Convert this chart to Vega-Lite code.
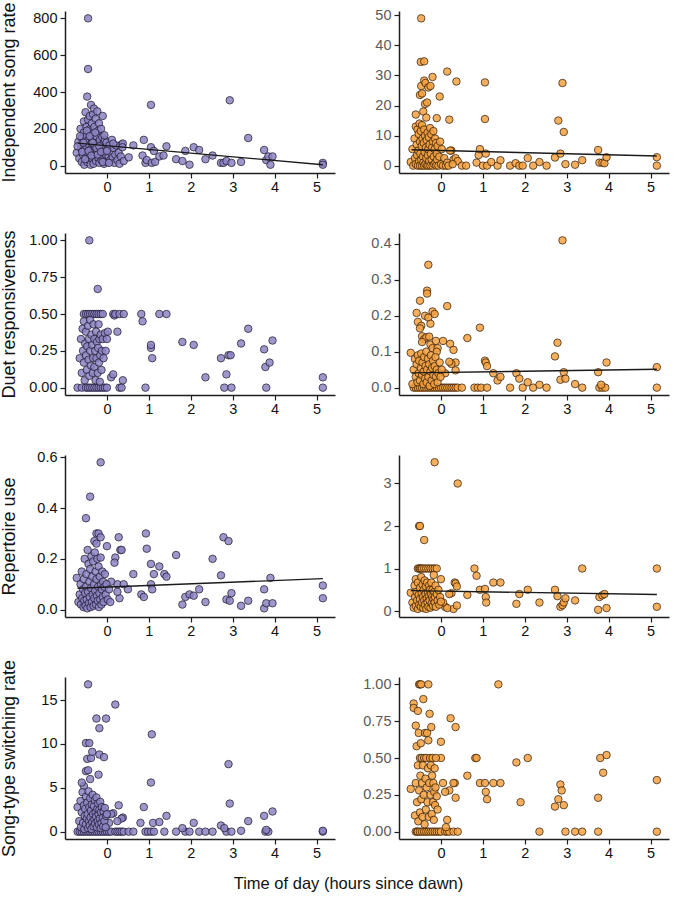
{
"$schema":"https://vega.github.io/schema/vega-lite/v6.json",
"background":"white",
"padding":{"left":0,"top":1,"right":12,"bottom":4},
"title":{"text":"Time of day (hours since dawn)","orient":"bottom","anchor":"middle","fontSize":16.5,"fontWeight":"normal","font":"Liberation Sans","color":"#111111","offset":16,"dx":14},
"columns":2,
"spacing":{"row":60,"column":64},
"bounds":"flush",
"config":{
 "view":{"stroke":null},
 "axis":{"grid":false,"domainColor":"#1e1e1e","domainWidth":1.5,"tickColor":"#1e1e1e","tickWidth":1.2,"tickSize":5,"labelPadding":3,"labelFont":"Liberation Sans","labelFontSize":14.5,"labelColor":"#111111","titleFont":"Liberation Sans","titleFontSize":18,"titleFontWeight":"normal","titleColor":"#111111"},
 "axisY":{"titleX":-47,"titleBaseline":"bottom"},
 "axisX":{"labelPadding":2}
},
"concat":[
 {"width":270,"height":162,
  "encoding":{"x":{"field":"x","type":"quantitative","scale":{"domain":[-1,5.44],"nice":false,"zero":false},"axis":{"values":[0,1,2,3,4,5],"title":null}},
   "y":{"field":"y","type":"quantitative","scale":{"domain":[-40,840],"nice":false,"zero":false},"axis":{"values":[0,200,400,600,800],"title":"Independent song rate"}}},
  "layer":[
  {"data":{"name":"p1"},"mark":{"type":"circle","size":56,"fill":"#8d85c4","stroke":"#2a2540","strokeWidth":1,"opacity":0.85}},
  {"data":{"name":"l1"},"mark":{"type":"line","color":"#1a1a1a","strokeWidth":1.4}}
 ]},
 {"width":270,"height":162,
  "encoding":{"x":{"field":"x","type":"quantitative","scale":{"domain":[-1,5.44],"nice":false,"zero":false},"axis":{"values":[0,1,2,3,4,5],"title":null}},
   "y":{"field":"y","type":"quantitative","scale":{"domain":[-2.45,51.45],"nice":false,"zero":false},"axis":{"values":[0,10,20,30,40,50],"title":null,"labelColor":"#5a5a5a"}}},
  "layer":[
  {"data":{"name":"p2"},"mark":{"type":"circle","size":56,"fill":"#f5a241","stroke":"#4a2c0c","strokeWidth":1,"opacity":0.85}},
  {"data":{"name":"l2"},"mark":{"type":"line","color":"#1a1a1a","strokeWidth":1.4}}
 ]},
 {"width":270,"height":162,
  "encoding":{"x":{"field":"x","type":"quantitative","scale":{"domain":[-1,5.44],"nice":false,"zero":false},"axis":{"values":[0,1,2,3,4,5],"title":null}},
   "y":{"field":"y","type":"quantitative","scale":{"domain":[-0.05,1.05],"nice":false,"zero":false},"axis":{"values":[0,0.25,0.5,0.75,1],"format":".2f","title":"Duet responsiveness"}}},
  "layer":[
  {"data":{"name":"p3"},"mark":{"type":"circle","size":56,"fill":"#8d85c4","stroke":"#2a2540","strokeWidth":1,"opacity":0.85}}
 ]},
 {"width":270,"height":162,
  "encoding":{"x":{"field":"x","type":"quantitative","scale":{"domain":[-1,5.44],"nice":false,"zero":false},"axis":{"values":[0,1,2,3,4,5],"title":null}},
   "y":{"field":"y","type":"quantitative","scale":{"domain":[-0.0205,0.4305],"nice":false,"zero":false},"axis":{"values":[0,0.1,0.2,0.3,0.4],"format":".1f","title":null,"labelColor":"#5a5a5a"}}},
  "layer":[
  {"data":{"name":"p4"},"mark":{"type":"circle","size":56,"fill":"#f5a241","stroke":"#4a2c0c","strokeWidth":1,"opacity":0.85}},
  {"data":{"name":"l4"},"mark":{"type":"line","color":"#1a1a1a","strokeWidth":1.4}}
 ]},
 {"width":270,"height":162,
  "encoding":{"x":{"field":"x","type":"quantitative","scale":{"domain":[-1,5.44],"nice":false,"zero":false},"axis":{"values":[0,1,2,3,4,5],"title":null}},
   "y":{"field":"y","type":"quantitative","scale":{"domain":[-0.029,0.609],"nice":false,"zero":false},"axis":{"values":[0,0.2,0.4,0.6],"format":".1f","title":"Repertoire use"}}},
  "layer":[
  {"data":{"name":"p5"},"mark":{"type":"circle","size":56,"fill":"#8d85c4","stroke":"#2a2540","strokeWidth":1,"opacity":0.85}},
  {"data":{"name":"l5"},"mark":{"type":"line","color":"#1a1a1a","strokeWidth":1.4}}
 ]},
 {"width":270,"height":162,
  "encoding":{"x":{"field":"x","type":"quantitative","scale":{"domain":[-1,5.44],"nice":false,"zero":false},"axis":{"values":[0,1,2,3,4,5],"title":null}},
   "y":{"field":"y","type":"quantitative","scale":{"domain":[-0.14,3.67],"nice":false,"zero":false},"axis":{"values":[0,1,2,3],"title":null,"labelColor":"#5a5a5a"}}},
  "layer":[
  {"data":{"name":"p6"},"mark":{"type":"circle","size":56,"fill":"#f5a241","stroke":"#4a2c0c","strokeWidth":1,"opacity":0.85}},
  {"data":{"name":"l6"},"mark":{"type":"line","color":"#1a1a1a","strokeWidth":1.4}}
 ]},
 {"width":270,"height":162,
  "encoding":{"x":{"field":"x","type":"quantitative","scale":{"domain":[-1,5.44],"nice":false,"zero":false},"axis":{"values":[0,1,2,3,4,5],"title":null}},
   "y":{"field":"y","type":"quantitative","scale":{"domain":[-0.84,17.64],"nice":false,"zero":false},"axis":{"values":[0,5,10,15],"title":"Song-type switching rate"}}},
  "layer":[
  {"data":{"name":"p7"},"mark":{"type":"circle","size":56,"fill":"#8d85c4","stroke":"#2a2540","strokeWidth":1,"opacity":0.85}}
 ]},
 {"width":270,"height":162,
  "encoding":{"x":{"field":"x","type":"quantitative","scale":{"domain":[-1,5.44],"nice":false,"zero":false},"axis":{"values":[0,1,2,3,4,5],"title":null}},
   "y":{"field":"y","type":"quantitative","scale":{"domain":[-0.05,1.05],"nice":false,"zero":false},"axis":{"values":[0,0.25,0.5,0.75,1],"format":".2f","title":null,"labelColor":"#5a5a5a"}}},
  "layer":[
  {"data":{"name":"p8"},"mark":{"type":"circle","size":56,"fill":"#f5a241","stroke":"#4a2c0c","strokeWidth":1,"opacity":0.85}}
 ]}
],
"datasets":{
"l1":[{"x":-0.7,"y":122},{"x":5.15,"y":5}],
"l2":[{"x":-0.7,"y":5.3},{"x":5.15,"y":3.2}],
"l4":[{"x":-0.7,"y":0.041},{"x":5.15,"y":0.051}],
"l5":[{"x":-0.7,"y":0.084},{"x":5.15,"y":0.122}],
"l6":[{"x":-0.72,"y":0.48},{"x":5.15,"y":0.39}],
"p1":[
{"x":-0.72,"y":70},{"x":-0.68,"y":130},{"x":-0.66,"y":40},{"x":-0.63,"y":200},{"x":-0.62,"y":95},{"x":-0.6,"y":150},{"x":-0.6,"y":20},{"x":-0.58,"y":110},{"x":-0.57,"y":60},{"x":-0.55,"y":180},{"x":-0.55,"y":240},{"x":-0.54,"y":5},{"x":-0.53,"y":85},{"x":-0.52,"y":130},{"x":-0.51,"y":290},{"x":-0.5,"y":45},{"x":-0.5,"y":160},{"x":-0.49,"y":210},{"x":-0.48,"y":100},{"x":-0.47,"y":375},{"x":-0.47,"y":20},{"x":-0.46,"y":70},{"x":-0.45,"y":800},{"x":-0.45,"y":525},{"x":-0.45,"y":250},{"x":-0.44,"y":140},{"x":-0.43,"y":185},{"x":-0.42,"y":30},{"x":-0.42,"y":110},{"x":-0.41,"y":270},{"x":-0.4,"y":60},{"x":-0.4,"y":200},{"x":-0.39,"y":5},{"x":-0.38,"y":330},{"x":-0.38,"y":90},{"x":-0.37,"y":150},{"x":-0.36,"y":230},{"x":-0.35,"y":40},{"x":-0.35,"y":120},{"x":-0.34,"y":175},{"x":-0.33,"y":280},{"x":-0.32,"y":10},{"x":-0.32,"y":75},{"x":-0.31,"y":310},{"x":-0.3,"y":140},{"x":-0.3,"y":210},{"x":-0.29,"y":50},{"x":-0.28,"y":100},{"x":-0.27,"y":255},{"x":-0.26,"y":25},{"x":-0.25,"y":160},{"x":-0.24,"y":70},{"x":-0.23,"y":295},{"x":-0.22,"y":120},{"x":-0.21,"y":190},{"x":-0.2,"y":40},{"x":-0.2,"y":85},{"x":-0.19,"y":230},{"x":-0.18,"y":15},{"x":-0.17,"y":140},{"x":-0.16,"y":60},{"x":-0.15,"y":110},{"x":-0.14,"y":200},{"x":-0.13,"y":30},{"x":-0.12,"y":90},{"x":-0.11,"y":155},{"x":-0.1,"y":270},{"x":-0.09,"y":50},{"x":-0.08,"y":120},{"x":-0.07,"y":10},{"x":-0.06,"y":80},{"x":-0.05,"y":140},{"x":-0.04,"y":35},{"x":-0.03,"y":100},{"x":-0.02,"y":60},{"x":-0.01,"y":125},{"x":0,"y":20},{"x":0.02,"y":90},{"x":0.04,"y":50},{"x":0.06,"y":110},{"x":0.08,"y":30},{"x":0.1,"y":70},{"x":0.12,"y":140},{"x":0.14,"y":45},{"x":0.16,"y":95},{"x":0.18,"y":15},{"x":0.2,"y":60},{"x":0.22,"y":110},{"x":0.25,"y":30},{"x":0.28,"y":70},{"x":0.3,"y":10},{"x":0.33,"y":50},{"x":0.35,"y":115},{"x":0.4,"y":25},
{"x":-0.7,"y":105},{"x":-0.64,"y":160},{"x":-0.59,"y":75},{"x":-0.56,"y":125},{"x":-0.52,"y":35},{"x":-0.48,"y":190},{"x":-0.44,"y":80},{"x":-0.41,"y":160},{"x":-0.37,"y":55},{"x":-0.34,"y":125},{"x":-0.28,"y":180},{"x":-0.25,"y":95},{"x":-0.22,"y":60},{"x":-0.18,"y":105},{"x":-0.14,"y":75},{"x":-0.1,"y":20},{"x":-0.06,"y":165},{"x":0.0,"y":80},{"x":0.05,"y":15},{"x":0.15,"y":120},
{"x":0.38,"y":120},{"x":0.37,"y":100},{"x":0.52,"y":45},{"x":0.63,"y":110},{"x":0.85,"y":55},{"x":0.88,"y":140},{"x":0.92,"y":15},{"x":0.95,"y":30},{"x":1.05,"y":330},{"x":1.05,"y":100},{"x":1.07,"y":15},{"x":1.12,"y":80},{"x":1.15,"y":20},{"x":1.25,"y":50},{"x":1.35,"y":55},{"x":1.42,"y":105},{"x":1.65,"y":35},{"x":1.8,"y":25},{"x":1.87,"y":80},{"x":1.97,"y":5},{"x":2.07,"y":100},{"x":2.2,"y":85},{"x":2.35,"y":35},{"x":2.52,"y":55},{"x":2.72,"y":15},{"x":2.78,"y":15},{"x":2.85,"y":25},{"x":2.93,"y":355},{"x":2.97,"y":15},{"x":3.2,"y":20},{"x":3.37,"y":150},{"x":3.75,"y":85},{"x":3.8,"y":30},{"x":3.85,"y":50},{"x":3.9,"y":5},{"x":3.95,"y":50},{"x":5.15,"y":15},{"x":5.15,"y":5}
],
"p2":[
{"x":-0.47,"y":49},{"x":-0.48,"y":34.5},{"x":-0.4,"y":34.7},{"x":-0.47,"y":26.5},{"x":-0.4,"y":28.3},{"x":-0.37,"y":27.5},{"x":-0.3,"y":26},{"x":-0.25,"y":26.5},{"x":-0.2,"y":29.5},{"x":0.15,"y":31.3},{"x":0.37,"y":28},{"x":-0.03,"y":23},{"x":-0.1,"y":15.8},{"x":0.2,"y":15.3},{"x":-0.5,"y":23.5},{"x":-0.45,"y":24},{"x":-0.38,"y":20.5},{"x":-0.33,"y":21},{"x":-0.42,"y":18},{"x":-0.6,"y":17},{"x":-0.35,"y":16},
{"x":0.25,"y":5},{"x":0.3,"y":2},{"x":0.35,"y":2.5},{"x":0.4,"y":1.5},{"x":0.5,"y":0},{"x":0.6,"y":0},{"x":0.85,"y":1},{"x":0.9,"y":3.5},{"x":0.93,"y":5.5},{"x":1.0,"y":0},{"x":1.05,"y":27.7},{"x":1.05,"y":15.5},{"x":1.07,"y":4},{"x":1.1,"y":0},{"x":1.2,"y":1.2},{"x":1.35,"y":0},{"x":1.42,"y":1.8},{"x":1.65,"y":0},{"x":1.78,"y":0.8},{"x":1.87,"y":0},{"x":1.95,"y":0},{"x":2.07,"y":2.5},{"x":2.2,"y":0},{"x":2.35,"y":1.2},{"x":2.52,"y":0},{"x":2.72,"y":2.7},{"x":2.8,"y":15},{"x":2.85,"y":4},{"x":2.9,"y":27.5},{"x":2.93,"y":11.2},{"x":2.97,"y":0.5},{"x":3.2,"y":0.3},{"x":3.37,"y":1.8},{"x":3.75,"y":5.2},{"x":3.78,"y":1},{"x":3.85,"y":1},{"x":3.9,"y":0.8},{"x":3.95,"y":2.8},{"x":5.15,"y":2.8},{"x":5.15,"y":0},
{"x":-0.72,"y":1.2},{"x":-0.68,"y":5.5},{"x":-0.66,"y":0},{"x":-0.63,"y":9},{"x":-0.62,"y":2.5},{"x":-0.6,"y":13},{"x":-0.6,"y":0.5},{"x":-0.58,"y":7},{"x":-0.57,"y":3.5},{"x":-0.56,"y":12},{"x":-0.55,"y":0},{"x":-0.54,"y":5},{"x":-0.53,"y":10.5},{"x":-0.52,"y":1.5},{"x":-0.51,"y":14},{"x":-0.5,"y":8},{"x":-0.5,"y":0},{"x":-0.49,"y":4},{"x":-0.48,"y":11.5},{"x":-0.47,"y":2},{"x":-0.46,"y":6.5},{"x":-0.45,"y":0},{"x":-0.45,"y":13.5},{"x":-0.44,"y":9},{"x":-0.43,"y":3},{"x":-0.42,"y":1},{"x":-0.41,"y":7.5},{"x":-0.4,"y":0},{"x":-0.4,"y":12},{"x":-0.39,"y":4.5},{"x":-0.38,"y":10},{"x":-0.37,"y":0.5},{"x":-0.36,"y":6},{"x":-0.35,"y":2.5},{"x":-0.34,"y":8.5},{"x":-0.33,"y":0},{"x":-0.32,"y":11},{"x":-0.31,"y":3.5},{"x":-0.3,"y":5.5},{"x":-0.3,"y":0},{"x":-0.29,"y":9.5},{"x":-0.28,"y":1.5},{"x":-0.27,"y":7},{"x":-0.26,"y":12.5},{"x":-0.25,"y":0},{"x":-0.24,"y":4},{"x":-0.23,"y":10.5},{"x":-0.22,"y":2},{"x":-0.21,"y":6},{"x":-0.2,"y":0},{"x":-0.19,"y":8},{"x":-0.18,"y":11.5},{"x":-0.17,"y":3},{"x":-0.16,"y":0.5},{"x":-0.15,"y":5.5},{"x":-0.14,"y":9},{"x":-0.13,"y":1},{"x":-0.12,"y":7.5},{"x":-0.11,"y":0},{"x":-0.1,"y":4},{"x":-0.09,"y":2},{"x":-0.08,"y":6.5},{"x":-0.06,"y":0},{"x":-0.04,"y":3},{"x":-0.02,"y":8},{"x":0,"y":0.5},{"x":0.02,"y":5.5},{"x":0.05,"y":0},{"x":0.08,"y":2.5},{"x":0.12,"y":0},{"x":0.15,"y":1},{"x":0.18,"y":0},{"x":0.22,"y":5},{"x":0.28,"y":0.5}
],
"p3":[
{"x":-0.55,"y":0.5},{"x":-0.5,"y":0.5},{"x":-0.45,"y":0.5},{"x":-0.4,"y":0.5},{"x":-0.35,"y":0.5},{"x":-0.3,"y":0.5},{"x":-0.25,"y":0.5},{"x":-0.2,"y":0.5},{"x":-0.15,"y":0.5},{"x":-0.1,"y":0.5},{"x":0.15,"y":0.5},{"x":0.18,"y":0.49},{"x":0.2,"y":0.5},{"x":0.3,"y":0.5},{"x":0.4,"y":0.5},{"x":0.82,"y":0.5},{"x":1.25,"y":0.5},{"x":1.42,"y":0.5},
{"x":-0.7,"y":0},{"x":-0.6,"y":0},{"x":-0.5,"y":0},{"x":-0.45,"y":0},{"x":-0.4,"y":0},{"x":-0.35,"y":0},{"x":-0.3,"y":0},{"x":-0.25,"y":0},{"x":-0.2,"y":0},{"x":-0.15,"y":0},{"x":-0.1,"y":0},{"x":-0.05,"y":0},{"x":0,"y":0},{"x":0.3,"y":0},{"x":0.35,"y":0},{"x":0.92,"y":0},{"x":2.8,"y":0},{"x":2.97,"y":0},{"x":3.8,"y":0},{"x":5.15,"y":0},
{"x":-0.42,"y":1.0},{"x":-0.22,"y":0.67},{"x":0.85,"y":0.45},{"x":1.05,"y":0.27},{"x":1.05,"y":0.29},{"x":1.08,"y":0.2},{"x":1.8,"y":0.31},{"x":2.07,"y":0.29},{"x":2.35,"y":0.07},{"x":2.72,"y":0.2},{"x":2.85,"y":0.09},{"x":2.9,"y":0.22},{"x":2.95,"y":0.22},{"x":3.2,"y":0.3},{"x":3.37,"y":0.4},{"x":3.75,"y":0.26},{"x":3.78,"y":0.14},{"x":3.88,"y":0.17},{"x":3.95,"y":0.32},{"x":5.15,"y":0.07},{"x":0.1,"y":0.07},{"x":0.15,"y":0.09},{"x":0.25,"y":0.38},{"x":0.38,"y":0.05},
{"x":-0.65,"y":0.2},{"x":-0.62,"y":0.33},{"x":-0.6,"y":0.1},{"x":-0.58,"y":0.4},{"x":-0.57,"y":0.25},{"x":-0.55,"y":0.17},{"x":-0.55,"y":0.45},{"x":-0.53,"y":0.05},{"x":-0.52,"y":0.3},{"x":-0.5,"y":0.22},{"x":-0.5,"y":0.38},{"x":-0.48,"y":0.12},{"x":-0.47,"y":0.28},{"x":-0.45,"y":0.42},{"x":-0.44,"y":0.19},{"x":-0.43,"y":0.33},{"x":-0.42,"y":0.08},{"x":-0.4,"y":0.25},{"x":-0.4,"y":0.46},{"x":-0.38,"y":0.15},{"x":-0.37,"y":0.36},{"x":-0.35,"y":0.29},{"x":-0.34,"y":0.1},{"x":-0.33,"y":0.2},{"x":-0.32,"y":0.43},{"x":-0.3,"y":0.33},{"x":-0.3,"y":0.14},{"x":-0.28,"y":0.25},{"x":-0.27,"y":0.05},{"x":-0.26,"y":0.38},{"x":-0.25,"y":0.2},{"x":-0.24,"y":0.31},{"x":-0.22,"y":0.1},{"x":-0.21,"y":0.27},{"x":-0.2,"y":0.43},{"x":-0.19,"y":0.17},{"x":-0.18,"y":0.33},{"x":-0.17,"y":0.04},{"x":-0.16,"y":0.22},{"x":-0.15,"y":0.36},{"x":-0.13,"y":0.12},{"x":-0.12,"y":0.25},{"x":-0.1,"y":0.33},{"x":-0.08,"y":0.2},{"x":-0.05,"y":0.37},{"x":-0.03,"y":0.25},{"x":0,"y":0.33},{"x":0.02,"y":0.38}
],
"p4":[
{"x":-0.65,"y":0},{"x":-0.6,"y":0},{"x":-0.55,"y":0},{"x":-0.5,"y":0},{"x":-0.45,"y":0},{"x":-0.4,"y":0},{"x":-0.35,"y":0},{"x":-0.3,"y":0},{"x":-0.25,"y":0},{"x":-0.2,"y":0},{"x":-0.15,"y":0},{"x":-0.1,"y":0},{"x":-0.05,"y":0},{"x":0,"y":0},{"x":0.05,"y":0},{"x":0.1,"y":0},{"x":0.15,"y":0},{"x":0.2,"y":0},{"x":0.25,"y":0},{"x":0.3,"y":0},{"x":0.35,"y":0},{"x":0.4,"y":0},{"x":0.5,"y":0},{"x":0.8,"y":0},{"x":0.88,"y":0},{"x":0.96,"y":0},{"x":1.1,"y":0},{"x":1.65,"y":0},{"x":1.95,"y":0},{"x":2.2,"y":0},{"x":2.52,"y":0},{"x":3.37,"y":0},{"x":3.78,"y":0},{"x":3.85,"y":0},{"x":3.92,"y":0},{"x":5.15,"y":0},
{"x":0.63,"y":0.138},{"x":0.93,"y":0.167},{"x":1.05,"y":0.075},{"x":1.07,"y":0.07},{"x":1.1,"y":0.06},{"x":1.25,"y":0.04},{"x":1.35,"y":0.02},{"x":1.42,"y":0.03},{"x":1.8,"y":0.04},{"x":1.87,"y":0.025},{"x":2.07,"y":0.015},{"x":2.35,"y":0.008},{"x":2.72,"y":0.087},{"x":2.78,"y":0.125},{"x":2.85,"y":0.022},{"x":2.9,"y":0.41},{"x":2.93,"y":0.043},{"x":2.97,"y":0.025},{"x":3.2,"y":0.01},{"x":3.75,"y":0.043},{"x":3.82,"y":0.008},{"x":3.95,"y":0.07},{"x":5.15,"y":0.057},{"x":0.15,"y":0.227},{"x":0.22,"y":0.122},{"x":0.3,"y":0.105},{"x":0.35,"y":0.07},{"x":0.35,"y":0.048},{"x":0.25,"y":0.066},{"x":0.2,"y":0.072},{"x":0.05,"y":0.13},{"x":0.1,"y":0.04},
{"x":-0.72,"y":0.097},{"x":-0.3,"y":0.342},{"x":-0.33,"y":0.27},{"x":-0.33,"y":0.262},{"x":-0.5,"y":0.242},{"x":-0.58,"y":0.208},{"x":-0.38,"y":0.2},{"x":-0.3,"y":0.195},{"x":-0.55,"y":0.183},{"x":-0.47,"y":0.172},{"x":-0.5,"y":0.165},{"x":-0.25,"y":0.178},{"x":-0.2,"y":0.212},{"x":-0.15,"y":0.205},{"x":-0.45,"y":0.143},{"x":-0.4,"y":0.135},{"x":-0.35,"y":0.14},{"x":-0.28,"y":0.142},{"x":-0.25,"y":0.12},{"x":-0.2,"y":0.11},{"x":-0.12,"y":0.13},{"x":-0.08,"y":0.11},{"x":-0.1,"y":0.1},{"x":-0.45,"y":0.127},
{"x":-0.68,"y":0.01},{"x":-0.65,"y":0.05},{"x":-0.62,"y":0.08},{"x":-0.6,"y":0.03},{"x":-0.58,"y":0.065},{"x":-0.56,"y":0.015},{"x":-0.55,"y":0.09},{"x":-0.53,"y":0.04},{"x":-0.52,"y":0.075},{"x":-0.5,"y":0.02},{"x":-0.48,"y":0.055},{"x":-0.47,"y":0.095},{"x":-0.45,"y":0.035},{"x":-0.44,"y":0.07},{"x":-0.42,"y":0.01},{"x":-0.41,"y":0.045},{"x":-0.4,"y":0.085},{"x":-0.38,"y":0.025},{"x":-0.37,"y":0.06},{"x":-0.35,"y":0.1},{"x":-0.34,"y":0.015},{"x":-0.33,"y":0.05},{"x":-0.31,"y":0.08},{"x":-0.3,"y":0.03},{"x":-0.28,"y":0.065},{"x":-0.27,"y":0.005},{"x":-0.25,"y":0.045},{"x":-0.24,"y":0.09},{"x":-0.22,"y":0.02},{"x":-0.21,"y":0.055},{"x":-0.19,"y":0.075},{"x":-0.18,"y":0.035},{"x":-0.16,"y":0.01},{"x":-0.15,"y":0.06},{"x":-0.13,"y":0.085},{"x":-0.12,"y":0.03},{"x":-0.1,"y":0.05},{"x":-0.08,"y":0.015},{"x":-0.06,"y":0.04},{"x":-0.03,"y":0.07},{"x":-0.01,"y":0.03},{"x":0.02,"y":0.05}
],
"p5":[
{"x":-0.15,"y":0.58},{"x":-0.4,"y":0.445},{"x":-0.5,"y":0.36},{"x":-0.25,"y":0.3},{"x":-0.2,"y":0.3},{"x":-0.15,"y":0.285},{"x":-0.3,"y":0.27},{"x":-0.25,"y":0.26},{"x":0,"y":0.25},{"x":0.28,"y":0.285},{"x":0.32,"y":0.235},{"x":0.35,"y":0.235},{"x":0.2,"y":0.205},{"x":0.18,"y":0.185},
{"x":0.93,"y":0.3},{"x":0.95,"y":0.24},{"x":1.05,"y":0.18},{"x":1.05,"y":0.1},{"x":1.08,"y":0.08},{"x":1.12,"y":0.14},{"x":1.25,"y":0.17},{"x":1.37,"y":0.14},{"x":1.42,"y":0.13},{"x":0.5,"y":0.08},{"x":0.63,"y":0.14},{"x":0.82,"y":0.06},{"x":0.88,"y":0.05},{"x":1.65,"y":0.215},{"x":1.8,"y":0.02},{"x":1.87,"y":0.05},{"x":1.97,"y":0.06},{"x":2.07,"y":0.055},{"x":2.2,"y":0.08},{"x":2.35,"y":0.03},{"x":2.52,"y":0.2},{"x":2.72,"y":0.135},{"x":2.78,"y":0.285},{"x":2.85,"y":0.04},{"x":2.9,"y":0.27},{"x":2.93,"y":0.035},{"x":2.97,"y":0.065},{"x":3.2,"y":0.015},{"x":3.37,"y":0.035},{"x":3.75,"y":0.08},{"x":3.75,"y":0.005},{"x":3.8,"y":0.025},{"x":3.9,"y":0.125},{"x":3.95,"y":0.025},{"x":5.15,"y":0.095},{"x":5.15,"y":0.045},{"x":0.25,"y":0.1},{"x":0.3,"y":0.045},{"x":0.4,"y":0.1},{"x":0.1,"y":0.11},{"x":0.25,"y":0.07},
{"x":-0.72,"y":0.125},{"x":-0.68,"y":0.03},{"x":-0.65,"y":0.06},{"x":-0.63,"y":0.1},{"x":-0.62,"y":0.02},{"x":-0.6,"y":0.15},{"x":-0.59,"y":0.045},{"x":-0.57,"y":0.08},{"x":-0.56,"y":0.01},{"x":-0.55,"y":0.12},{"x":-0.54,"y":0.035},{"x":-0.53,"y":0.2},{"x":-0.52,"y":0.065},{"x":-0.51,"y":0.015},{"x":-0.5,"y":0.09},{"x":-0.49,"y":0.14},{"x":-0.48,"y":0.04},{"x":-0.47,"y":0.005},{"x":-0.46,"y":0.235},{"x":-0.45,"y":0.07},{"x":-0.44,"y":0.18},{"x":-0.43,"y":0.025},{"x":-0.42,"y":0.11},{"x":-0.41,"y":0.05},{"x":-0.4,"y":0.16},{"x":-0.39,"y":0.01},{"x":-0.38,"y":0.085},{"x":-0.37,"y":0.21},{"x":-0.36,"y":0.03},{"x":-0.35,"y":0.13},{"x":-0.34,"y":0.06},{"x":-0.33,"y":0.19},{"x":-0.32,"y":0.015},{"x":-0.31,"y":0.1},{"x":-0.3,"y":0.045},{"x":-0.29,"y":0.225},{"x":-0.28,"y":0.075},{"x":-0.27,"y":0.15},{"x":-0.26,"y":0.02},{"x":-0.25,"y":0.12},{"x":-0.24,"y":0.055},{"x":-0.23,"y":0.2},{"x":-0.22,"y":0.035},{"x":-0.21,"y":0.09},{"x":-0.2,"y":0.17},{"x":-0.19,"y":0.01},{"x":-0.18,"y":0.065},{"x":-0.17,"y":0.13},{"x":-0.16,"y":0.04},{"x":-0.15,"y":0.205},{"x":-0.14,"y":0.1},{"x":-0.13,"y":0.02},{"x":-0.12,"y":0.08},{"x":-0.11,"y":0.15},{"x":-0.1,"y":0.05},{"x":-0.09,"y":0.11},{"x":-0.08,"y":0.03},{"x":-0.06,"y":0.09},{"x":-0.05,"y":0.14},{"x":-0.03,"y":0.06},{"x":-0.01,"y":0.1},{"x":0.02,"y":0.04},{"x":0.05,"y":0.08},{"x":0.08,"y":0.03}
],
"p6":[
{"x":-0.15,"y":3.5},{"x":0.4,"y":3.0},{"x":-0.52,"y":2.0},{"x":-0.5,"y":2.0},{"x":-0.4,"y":1.67},
{"x":-0.55,"y":1},{"x":-0.52,"y":1},{"x":-0.5,"y":1},{"x":-0.47,"y":1},{"x":-0.45,"y":1},{"x":-0.4,"y":1},{"x":-0.35,"y":1},{"x":-0.3,"y":1},{"x":-0.25,"y":1},{"x":-0.2,"y":1},{"x":-0.15,"y":1},{"x":-0.1,"y":1},{"x":0.8,"y":1},{"x":3.37,"y":1},{"x":5.15,"y":1},
{"x":0,"y":0.75},{"x":0.33,"y":0.67},{"x":0.35,"y":0.65},{"x":0.38,"y":0.58},{"x":0.63,"y":0.38},{"x":0.85,"y":0.83},{"x":0.93,"y":0.5},{"x":1.05,"y":0.52},{"x":1.07,"y":0.33},{"x":1.08,"y":0.2},{"x":1.25,"y":0.67},{"x":1.42,"y":0.67},{"x":1.8,"y":0.17},{"x":1.87,"y":0.4},{"x":2.07,"y":0.5},{"x":2.35,"y":0.2},{"x":2.72,"y":0.5},{"x":2.78,"y":0.35},{"x":2.85,"y":0.1},{"x":2.9,"y":0.14},{"x":2.93,"y":0.2},{"x":2.97,"y":0.3},{"x":3.2,"y":0.25},{"x":3.75,"y":0.03},{"x":3.78,"y":0.33},{"x":3.85,"y":0.37},{"x":3.9,"y":0.4},{"x":3.95,"y":0.07},{"x":5.15,"y":0.1},{"x":0.25,"y":0.42},{"x":0.2,"y":0.4},{"x":0.3,"y":0.05},{"x":0.38,"y":0.13},{"x":0.1,"y":0.1},{"x":0.15,"y":0.07},{"x":0.05,"y":0.2},
{"x":-0.72,"y":0.43},{"x":-0.68,"y":0.2},{"x":-0.65,"y":0.08},{"x":-0.63,"y":0.6},{"x":-0.62,"y":0.33},{"x":-0.6,"y":0.75},{"x":-0.6,"y":0.12},{"x":-0.58,"y":0.45},{"x":-0.57,"y":0.25},{"x":-0.55,"y":0.05},{"x":-0.55,"y":0.67},{"x":-0.53,"y":0.38},{"x":-0.52,"y":0.15},{"x":-0.5,"y":0.55},{"x":-0.5,"y":0.28},{"x":-0.48,"y":0.1},{"x":-0.47,"y":0.8},{"x":-0.46,"y":0.42},{"x":-0.45,"y":0.2},{"x":-0.44,"y":0.62},{"x":-0.43,"y":0.33},{"x":-0.42,"y":0.07},{"x":-0.41,"y":0.5},{"x":-0.4,"y":0.25},{"x":-0.39,"y":0.72},{"x":-0.38,"y":0.15},{"x":-0.37,"y":0.4},{"x":-0.36,"y":0.58},{"x":-0.35,"y":0.05},{"x":-0.34,"y":0.3},{"x":-0.33,"y":0.67},{"x":-0.32,"y":0.2},{"x":-0.31,"y":0.45},{"x":-0.3,"y":0.1},{"x":-0.29,"y":0.35},{"x":-0.28,"y":0.6},{"x":-0.27,"y":0.25},{"x":-0.26,"y":0.5},{"x":-0.25,"y":0.08},{"x":-0.24,"y":0.4},{"x":-0.23,"y":0.67},{"x":-0.22,"y":0.18},{"x":-0.21,"y":0.33},{"x":-0.2,"y":0.5},{"x":-0.19,"y":0.12},{"x":-0.18,"y":0.28},{"x":-0.17,"y":0.85},{"x":-0.16,"y":0.45},{"x":-0.15,"y":0.2},{"x":-0.14,"y":0.33},{"x":-0.13,"y":0.6},{"x":-0.12,"y":0.1},{"x":-0.1,"y":0.4},{"x":-0.08,"y":0.25},{"x":-0.06,"y":0.5},{"x":-0.04,"y":0.15},{"x":-0.02,"y":0.33},{"x":0,"y":0.22}
],
"p7":[
{"x":-0.7,"y":0},{"x":-0.65,"y":0},{"x":-0.6,"y":0},{"x":-0.55,"y":0},{"x":-0.5,"y":0},{"x":-0.45,"y":0},{"x":-0.4,"y":0},{"x":-0.35,"y":0},{"x":-0.3,"y":0},{"x":-0.25,"y":0},{"x":-0.2,"y":0},{"x":-0.15,"y":0},{"x":-0.1,"y":0},{"x":-0.05,"y":0},{"x":0,"y":0},{"x":0.05,"y":0},{"x":0.1,"y":0},{"x":0.2,"y":0},{"x":0.25,"y":0},{"x":0.3,"y":0},{"x":0.35,"y":0},{"x":0.4,"y":0},{"x":0.52,"y":0},{"x":0.63,"y":0},{"x":0.92,"y":0},{"x":0.98,"y":0},{"x":1.05,"y":0},{"x":1.12,"y":0},{"x":1.37,"y":0},{"x":1.65,"y":0},{"x":1.87,"y":0},{"x":1.97,"y":0},{"x":2.2,"y":0},{"x":2.35,"y":0},{"x":2.52,"y":0},{"x":2.85,"y":0},{"x":2.97,"y":0},{"x":3.78,"y":0},{"x":3.85,"y":0},{"x":5.15,"y":0},{"x":5.15,"y":0.1},
{"x":-0.45,"y":16.8},{"x":0.2,"y":14.5},{"x":-0.25,"y":12.9},{"x":-0.02,"y":12.9},{"x":-0.18,"y":11.8},{"x":-0.5,"y":10.1},{"x":-0.42,"y":10.1},{"x":-0.47,"y":8.3},{"x":-0.38,"y":8.4},{"x":-0.35,"y":9.1},{"x":-0.18,"y":8.8},{"x":-0.07,"y":8.5},{"x":-0.2,"y":6.5},{"x":-0.5,"y":6.9},{"x":-0.45,"y":7.0},{"x":-0.55,"y":5.2},{"x":-0.6,"y":5.6},{"x":-0.4,"y":6.0},{"x":1.07,"y":11.1},{"x":1.05,"y":5.6},{"x":2.9,"y":7.7},{"x":2.93,"y":3.2},{"x":0.28,"y":3.0},{"x":0.88,"y":2.8},{"x":1.42,"y":1.8},{"x":3.75,"y":1.8},{"x":3.95,"y":2.3},{"x":3.37,"y":1.2},{"x":0.8,"y":1.0},{"x":1.1,"y":1.0},{"x":1.25,"y":1.1},{"x":2.07,"y":1.0},{"x":2.72,"y":0.7},{"x":2.8,"y":0.4},{"x":1.8,"y":0.4},{"x":3.2,"y":0.1},{"x":3.8,"y":0.2},{"x":0.38,"y":1.6},{"x":0.35,"y":1.5},{"x":0.25,"y":1.2},{"x":0.15,"y":2.1},{"x":0.1,"y":2.0},{"x":0.05,"y":1.0},
{"x":-0.7,"y":2.8},{"x":-0.66,"y":1.2},{"x":-0.63,"y":3.5},{"x":-0.62,"y":0.5},{"x":-0.6,"y":2.2},{"x":-0.58,"y":4.5},{"x":-0.57,"y":1.0},{"x":-0.55,"y":3.0},{"x":-0.54,"y":0.3},{"x":-0.53,"y":1.8},{"x":-0.52,"y":2.6},{"x":-0.5,"y":0.8},{"x":-0.5,"y":4.0},{"x":-0.48,"y":1.5},{"x":-0.47,"y":3.3},{"x":-0.46,"y":2.0},{"x":-0.45,"y":0.4},{"x":-0.44,"y":4.6},{"x":-0.43,"y":1.2},{"x":-0.42,"y":2.8},{"x":-0.41,"y":0.7},{"x":-0.4,"y":3.8},{"x":-0.39,"y":1.6},{"x":-0.38,"y":2.4},{"x":-0.37,"y":0.3},{"x":-0.36,"y":3.1},{"x":-0.35,"y":1.1},{"x":-0.34,"y":4.2},{"x":-0.33,"y":2.0},{"x":-0.32,"y":0.6},{"x":-0.31,"y":2.9},{"x":-0.3,"y":1.4},{"x":-0.29,"y":3.6},{"x":-0.28,"y":0.9},{"x":-0.27,"y":2.2},{"x":-0.26,"y":1.7},{"x":-0.25,"y":3.9},{"x":-0.24,"y":0.5},{"x":-0.23,"y":2.6},{"x":-0.22,"y":1.2},{"x":-0.21,"y":3.2},{"x":-0.2,"y":2.0},{"x":-0.19,"y":0.8},{"x":-0.18,"y":2.5},{"x":-0.17,"y":1.5},{"x":-0.16,"y":3.4},{"x":-0.15,"y":0.4},{"x":-0.14,"y":2.2},{"x":-0.13,"y":1.0},{"x":-0.12,"y":2.8},{"x":-0.1,"y":1.6},{"x":-0.09,"y":0.6},{"x":-0.08,"y":2.3},{"x":-0.06,"y":1.2},{"x":-0.05,"y":2.7},{"x":-0.03,"y":0.5},{"x":-0.02,"y":1.8},{"x":0,"y":2.0}
],
"p8":[
{"x":-0.6,"y":0},{"x":-0.57,"y":0},{"x":-0.55,"y":0},{"x":-0.5,"y":0},{"x":-0.45,"y":0},{"x":-0.4,"y":0},{"x":-0.35,"y":0},{"x":-0.3,"y":0},{"x":-0.25,"y":0},{"x":-0.2,"y":0},{"x":-0.15,"y":0},{"x":-0.1,"y":0},{"x":-0.05,"y":0},{"x":0,"y":0},{"x":0.1,"y":0},{"x":0.15,"y":0},{"x":0.2,"y":0},{"x":0.3,"y":0},{"x":0.4,"y":0},{"x":2.35,"y":0},{"x":2.97,"y":0},{"x":3.2,"y":0},{"x":3.37,"y":0},{"x":3.75,"y":0},{"x":5.15,"y":0},
{"x":-0.52,"y":1},{"x":-0.5,"y":1},{"x":-0.47,"y":1},{"x":-0.3,"y":1},{"x":1.37,"y":1},
{"x":0,"y":0.61},{"x":0,"y":0.5},{"x":0.23,"y":0.77},{"x":0.35,"y":0.71},{"x":0.63,"y":0.38},{"x":0.82,"y":0.5},{"x":0.85,"y":0.5},{"x":0.93,"y":0.33},{"x":1.05,"y":0.33},{"x":1.07,"y":0.27},{"x":1.1,"y":0.22},{"x":1.25,"y":0.33},{"x":1.42,"y":0.33},{"x":1.8,"y":0.47},{"x":1.9,"y":0.2},{"x":2.07,"y":0.5},{"x":2.72,"y":0.17},{"x":2.8,"y":0.22},{"x":2.85,"y":0.32},{"x":2.88,"y":0.28},{"x":2.93,"y":0.18},{"x":3.75,"y":0.23},{"x":3.8,"y":0.5},{"x":3.87,"y":0.4},{"x":3.95,"y":0.52},{"x":5.15,"y":0.35},{"x":0.15,"y":0.08},{"x":0.12,"y":0.03},{"x":0.2,"y":0.28},{"x":0.33,"y":0.33},{"x":0.35,"y":0.23},{"x":0.1,"y":0.27},{"x":0.05,"y":0.33},{"x":0.3,"y":0.33},
{"x":-0.72,"y":0.29},{"x":-0.65,"y":0.87},{"x":-0.65,"y":0.84},{"x":-0.62,"y":0.11},{"x":-0.6,"y":0.72},{"x":-0.6,"y":0.33},{"x":-0.58,"y":0.58},{"x":-0.57,"y":0.2},{"x":-0.55,"y":0.82},{"x":-0.55,"y":0.45},{"x":-0.54,"y":0.07},{"x":-0.53,"y":0.67},{"x":-0.52,"y":0.28},{"x":-0.5,"y":0.5},{"x":-0.5,"y":0.13},{"x":-0.49,"y":0.38},{"x":-0.48,"y":0.6},{"x":-0.47,"y":0.22},{"x":-0.46,"y":0.5},{"x":-0.45,"y":0.33},{"x":-0.44,"y":0.1},{"x":-0.43,"y":0.45},{"x":-0.42,"y":0.9},{"x":-0.41,"y":0.25},{"x":-0.4,"y":0.5},{"x":-0.39,"y":0.05},{"x":-0.38,"y":0.67},{"x":-0.37,"y":0.36},{"x":-0.36,"y":0.15},{"x":-0.35,"y":0.5},{"x":-0.34,"y":0.3},{"x":-0.33,"y":0.67},{"x":-0.32,"y":0.2},{"x":-0.31,"y":0.43},{"x":-0.3,"y":0.62},{"x":-0.29,"y":0.1},{"x":-0.28,"y":0.33},{"x":-0.27,"y":0.8},{"x":-0.26,"y":0.5},{"x":-0.25,"y":0.25},{"x":-0.24,"y":0.45},{"x":-0.23,"y":0.71},{"x":-0.22,"y":0.12},{"x":-0.21,"y":0.38},{"x":-0.2,"y":0.5},{"x":-0.19,"y":0.2},{"x":-0.18,"y":0.33},{"x":-0.17,"y":0.08},{"x":-0.16,"y":0.27},{"x":-0.15,"y":0.43},{"x":-0.14,"y":0.18},{"x":-0.13,"y":0.3},{"x":-0.12,"y":0.5},{"x":-0.1,"y":0.24},{"x":-0.08,"y":0.15}
]
}
}
